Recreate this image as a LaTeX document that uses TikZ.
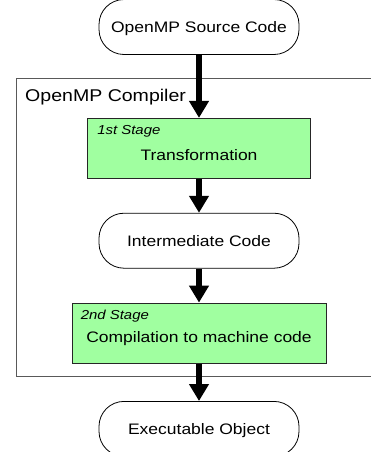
\documentclass[tikz,border=0pt]{standalone}
\usepackage{fontspec}
\setmainfont[FakeStretch=1.15]{Liberation Sans}
\usetikzlibrary{positioning, arrows.meta}
\definecolor{stagegreen}{RGB}{160,255,160}

\begin{document}
\begin{tikzpicture}[x=1pt, y=1pt, node distance=34pt,
	every node/.style={font=\fontsize{15.2}{18}\selectfont},
	term/.style={rectangle, rounded corners=25pt, draw, line width=0.8pt, minimum width=200pt, minimum height=55pt, inner sep=0pt, text height=11pt, text depth=0pt},
	stage/.style={rectangle, draw=black!85, line width=0.9pt, fill=stagegreen, minimum height=60pt, inner sep=0pt, text depth=0pt},
	stagelbl/.style={anchor=base west, inner sep=0pt, font=\fontsize{13}{15}\selectfont\itshape},
	arr/.style={-{Triangle[width=19pt, length=17pt]}, line width=6.5pt}
	]

\useasboundingbox (0,0) rectangle (371,-452);

% compiler frame, open to the right
\node[draw=black!65, line width=1pt, anchor=north west, minimum width=380pt, minimum height=298pt, inner sep=0pt] (compiler) at (16,-78) {};
\node[anchor=base west, inner sep=0pt, font=\fontsize{17}{20}\selectfont] (complbl) at ([shift={(9,-23.7)}]compiler.north west) {OpenMP Compiler};

\node[term] (src) at (199,-27) {OpenMP Source Code};
\node[stage, minimum width=223pt, text height=25pt, below=63pt of src] (trans) {Transformation};
\node[term, below=34pt of trans] (inter) {Intermediate Code};
\node[stage, minimum width=254pt, text height=19pt, below=34pt of inter] (machine) {Compilation to machine code};
\node[term, below=37.5pt of machine] (exe) {Executable Object};

\node[stagelbl] (lbl1) at ([shift={(10,-17)}]trans.north west) {1st Stage};
\node[stagelbl] (lbl2) at ([shift={(9,-17)}]machine.north west) {2nd Stage};

\path[arr]
(src) edge (trans)
(trans) edge (inter)
(inter) edge (machine)
(machine) edge (exe);

\end{tikzpicture}
\end{document}
